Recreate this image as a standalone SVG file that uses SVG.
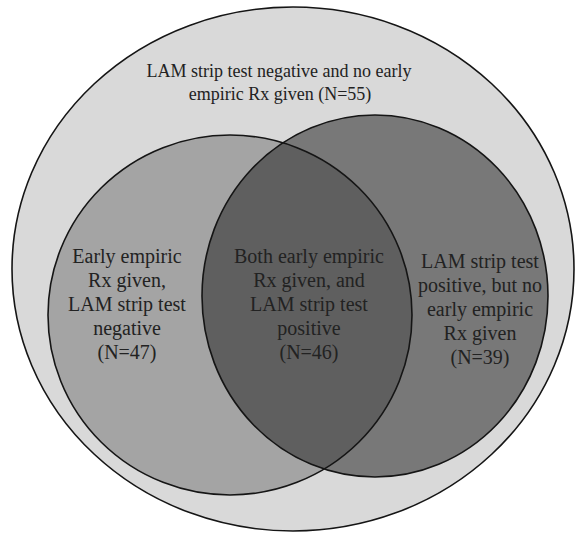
<svg xmlns="http://www.w3.org/2000/svg" width="575" height="536" viewBox="0 0 575 536">
  <style>
    .ring { stroke: #151515; stroke-width: 1.6; }
    .lbl { font-family: "Liberation Serif", "Times New Roman", serif; font-size: 20px; fill: #222; text-anchor: middle; }
    .top { font-size: 18px; }
  </style>
  <defs>
    <clipPath id="clipLeft">
      <ellipse cx="230" cy="315" rx="182" ry="180"/>
    </clipPath>
  </defs>
  <rect x="0" y="0" width="575" height="536" fill="#ffffff"/>
  <g id="outer">
    <ellipse class="ring" cx="293" cy="269" rx="281" ry="262" fill="#d9d9d9"/>
    <text class="lbl top" x="279" y="77">LAM strip test negative and no early</text>
    <text class="lbl top" x="280" y="100">empiric Rx given (N=55)</text>
  </g>
  <g id="left">
    <ellipse cx="230" cy="315" rx="182" ry="180" fill="#a4a4a4"/>
  </g>
  <g id="right">
    <ellipse cx="375" cy="296" rx="173" ry="181" fill="#787878"/>
  </g>
  <g id="overlap">
    <ellipse cx="375" cy="296" rx="173" ry="181" fill="#5f5f5f" clip-path="url(#clipLeft)"/>
  </g>
  <g id="outlines" fill="none">
    <ellipse class="ring" cx="230" cy="315" rx="182" ry="180"/>
    <ellipse class="ring" cx="375" cy="296" rx="173" ry="181"/>
  </g>
  <g id="left-label">
    <text class="lbl" x="127" y="263">Early empiric</text>
    <text class="lbl" x="127" y="287">Rx given,</text>
    <text class="lbl" x="127" y="311">LAM strip test</text>
    <text class="lbl" x="127" y="335">negative</text>
    <text class="lbl" x="127" y="359">(N=47)</text>
  </g>
  <g id="overlap-label">
    <text class="lbl" x="309" y="263">Both early empiric</text>
    <text class="lbl" x="309" y="287">Rx given, and</text>
    <text class="lbl" x="309" y="311">LAM strip test</text>
    <text class="lbl" x="309" y="335">positive</text>
    <text class="lbl" x="309" y="359">(N=46)</text>
  </g>
  <g id="right-label">
    <text class="lbl" x="480" y="268">LAM strip test</text>
    <text class="lbl" x="480" y="292">positive, but no</text>
    <text class="lbl" x="480" y="316">early empiric</text>
    <text class="lbl" x="480" y="340">Rx given</text>
    <text class="lbl" x="480" y="364">(N=39)</text>
  </g>
</svg>
